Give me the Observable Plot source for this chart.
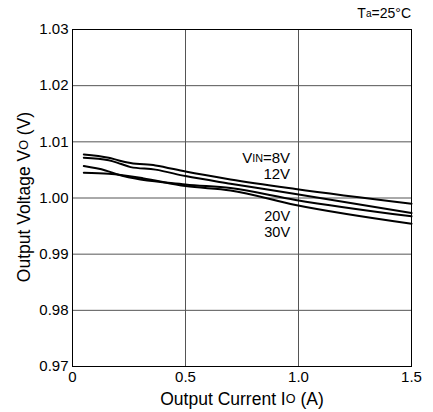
<!DOCTYPE html>
<html>
<head>
<meta charset="utf-8">
<script src="https://cdn.jsdelivr.net/npm/d3@7"></script>
<script src="https://cdn.jsdelivr.net/npm/@observablehq/plot@0.6"></script>
<style>
  html, body { margin: 0; padding: 0; background: #fff; }
  svg { display: block; }
</style>
</head>
<body>
<div id="chart"></div>
<script>
// Output current (A) and output voltage (V) for each input voltage
const current8V  = [0.05, 0.16, 0.205, 0.257, 0.367, 0.5, 0.699, 0.987, 1.5];
const voltage8V  = [1.00776, 1.00717, 1.00669, 1.00625, 1.0058, 1.0047, 1.00331, 1.00162, 0.99899];
const current12V = [0.05, 0.16, 0.212, 0.257, 0.367, 0.5, 0.699, 0.987, 1.5];
const voltage12V = [1.00717, 1.00674, 1.0061, 1.0055, 1.00505, 1.0039, 1.00254, 1.00073, 0.99731];
const current20V = [0.05, 0.146, 0.204, 0.5, 0.699, 0.987, 1.5];
const voltage20V = [1.00568, 1.00491, 1.00415, 1.00242, 1.00176, 0.99966, 0.99673];
const current30V = [0.05, 0.16, 0.31, 0.5, 0.699, 0.987, 1.5];
const voltage30V = [1.0045, 1.00432, 1.00354, 1.00212, 1.00135, 0.99877, 0.99543];

const xTicks = [0, 0.5, 1.0, 1.5];
const xTickLabels = ["0", "0.5", "1.0", "1.5"];
const yTicks = [0.97, 0.98, 0.99, 1.00, 1.01, 1.02, 1.03];
const yTickLabels = ["0.97", "0.98", "0.99", "1.00", "1.01", "1.02", "1.03"];

const seriesNames = ["8V", "12V", "20V", "30V"];
const seriesCurrents = [current8V, current12V, current20V, current30V];
const seriesVoltages = [voltage8V, voltage12V, voltage20V, voltage30V];

const data = [];
seriesNames.forEach((s, i) => {
  seriesCurrents[i].forEach((c, j) => data.push({series: s, current: c, voltage: seriesVoltages[i][j]}));
});

const FONT = "'Liberation Sans', Arial, Helvetica, sans-serif";

const plot = Plot.plot({
  width: 433,
  height: 412,
  marginLeft: 72,
  marginRight: 22,
  marginTop: 29,
  marginBottom: 46,
  style: {fontFamily: FONT, fontSize: "15px", color: "#000", background: "#fff"},
  x: {domain: [0, 1.5], ticks: xTicks},
  y: {domain: [0.97, 1.03], ticks: yTicks},
  marks: [
    Plot.gridX(xTicks, {stroke: "#555", strokeOpacity: 1, strokeWidth: 1}),
    Plot.gridY(yTicks, {stroke: "#555", strokeOpacity: 1, strokeWidth: 1}),
    Plot.axisX(xTicks, {tickSize: 0, tickPadding: 5, label: null, fontSize: 15,
      tickFormat: (d) => xTickLabels[xTicks.indexOf(d)]}),
    Plot.axisY(yTicks, {tickSize: 0, tickPadding: 4, label: null, fontSize: 15,
      tickFormat: (d) => yTickLabels[yTicks.indexOf(d)]}),
    Plot.line(data, {x: "current", y: "voltage", z: "series", stroke: "#000",
      strokeWidth: 2, curve: "monotone-x"}),
    Plot.frame({stroke: "#000", strokeWidth: 1})
  ]
});

document.getElementById("chart").appendChild(plot);

// Rich text labels with subscripts, positioned through the plot's scales
const sx = plot.scale("x");
const sy = plot.scale("y");
const svg = d3.select(plot);
const g = svg.append("g").attr("font-family", FONT).attr("fill", "#000");

function rich(x, y, parts, opts = {}) {
  const size = opts.size || 15;
  const t = g.append("text")
    .attr("x", x).attr("y", y)
    .attr("font-size", size)
    .attr("text-anchor", opts.anchor || "start")
    .attr("dominant-baseline", "middle");
  if (opts.rotate) t.attr("transform", `rotate(${opts.rotate},${x},${y})`);
  parts.forEach(([txt, small]) => {
    t.append("tspan").attr("font-size", small ? size * 0.72 : null).text(txt);
  });
  return t;
}

// Annotations for series
const xr = sx.apply(0.965);
rich(xr, sy.apply(1.00687), [["V"], ["IN", true], ["=8V"]], {anchor: "end", size: 15});
rich(xr, sy.apply(1.0040), [["12V"]], {anchor: "end", size: 15});
rich(xr, sy.apply(0.99655), [["20V"]], {anchor: "end", size: 14.5});
rich(xr, sy.apply(0.99375), [["30V"]], {anchor: "end", size: 14.5});

// Condition label
rich(411, 14, [["T"], ["a", true], ["=25°C"]], {anchor: "end", size: 14});

// Axis titles
rich(242, 400, [["Output Current I"], ["O", true], [" (A)"]], {anchor: "middle", size: 17.5});
rich(25, 197, [["Output Voltage V"], ["O", true], [" (V)"]], {anchor: "middle", size: 17.5, rotate: -90});
</script>
</body>
</html>
